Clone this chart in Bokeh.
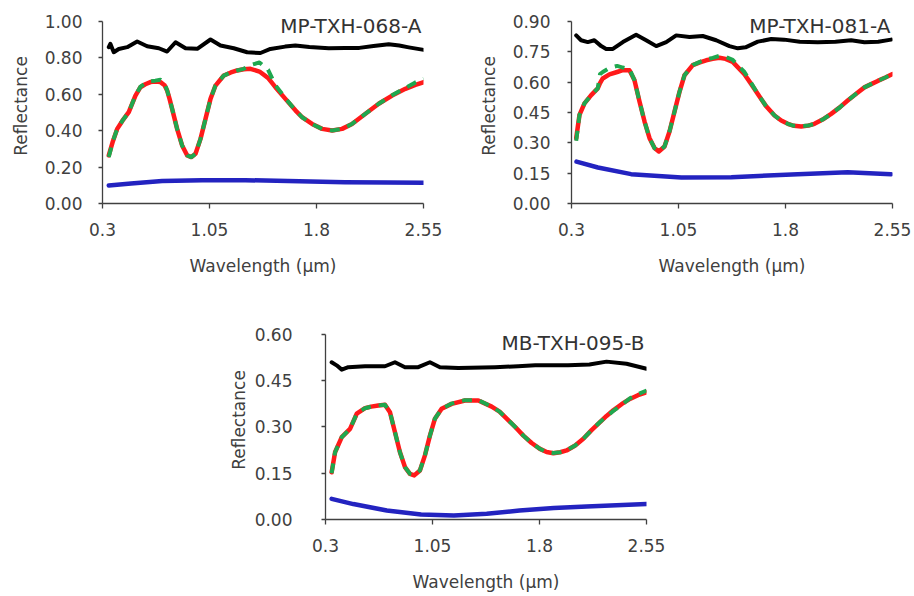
from bokeh.plotting import figure
from bokeh.layouts import column, row
from bokeh.models import Range1d, FixedTicker, NumeralTickFormatter, Label, Spacer
from bokeh.embed import file_html
from bokeh.resources import INLINE

# ---------------- data ----------------
x_ticks = [0.3, 1.05, 1.8, 2.55]
x_tick_labels = ["0.3", "1.05", "1.8", "2.55"]

# MP-TXH-068-A
a_title = "MP-TXH-068-A"
a_yticks = [0.0, 0.2, 0.4, 0.6, 0.8, 1.0]
a_black_x = [0.344, 0.355, 0.379, 0.414, 0.473, 0.543, 0.613, 0.695, 0.753, 0.812, 0.882, 0.964, 1.057,
             1.127, 1.22, 1.314, 1.407, 1.477, 1.58, 1.652, 1.75, 1.886, 2.0, 2.1, 2.2, 2.306, 2.38, 2.447, 2.552]
a_black_y = [0.859, 0.877, 0.831, 0.849, 0.859, 0.890, 0.864, 0.853, 0.835, 0.886, 0.853, 0.850, 0.901,
             0.868, 0.853, 0.831, 0.827, 0.849, 0.862, 0.868, 0.860, 0.853, 0.855, 0.855, 0.865, 0.875, 0.868,
             0.858, 0.844]
a_red_x = [0.344, 0.37, 0.403, 0.44, 0.484, 0.531, 0.566, 0.60, 0.636, 0.67, 0.706, 0.735, 0.753, 0.77,
           0.788, 0.823, 0.858, 0.894, 0.922, 0.952, 0.987, 1.022, 1.057, 1.092, 1.15, 1.2, 1.244, 1.29,
           1.337, 1.40, 1.46, 1.512, 1.582, 1.652, 1.699, 1.769, 1.839, 1.91, 1.979, 2.049, 2.143, 2.236,
           2.33, 2.423, 2.493, 2.552]
a_red_y = [0.264, 0.335, 0.410, 0.455, 0.502, 0.593, 0.639, 0.655, 0.667, 0.670, 0.667, 0.650, 0.621, 0.575,
           0.520, 0.410, 0.319, 0.264, 0.255, 0.273, 0.355, 0.465, 0.575, 0.648, 0.703, 0.720, 0.731, 0.738,
           0.740, 0.725, 0.690, 0.639, 0.575, 0.512, 0.474, 0.437, 0.410, 0.401, 0.410, 0.437, 0.493, 0.548,
           0.593, 0.630, 0.652, 0.667]
a_green_x = a_red_x
a_green_y = [0.255, 0.335, 0.410, 0.455, 0.502, 0.593, 0.642, 0.660, 0.672, 0.675, 0.680, 0.660, 0.621, 0.575,
             0.520, 0.410, 0.319, 0.264, 0.255, 0.273, 0.355, 0.465, 0.575, 0.648, 0.703, 0.720, 0.731, 0.740,
             0.760, 0.775, 0.735, 0.650, 0.578, 0.512, 0.474, 0.437, 0.410, 0.401, 0.410, 0.437, 0.493, 0.548,
             0.595, 0.635, 0.665, 0.684]
a_blue_x = [0.344, 0.5, 0.718, 1.0, 1.3, 1.6, 2.0, 2.3, 2.552]
a_blue_y = [0.099, 0.110, 0.123, 0.128, 0.128, 0.124, 0.117, 0.115, 0.114]

# MP-TXH-081-A
b_title = "MP-TXH-081-A"
b_yticks = [0.0, 0.15, 0.3, 0.45, 0.6, 0.75, 0.9]
b_black_x = [0.333, 0.367, 0.414, 0.46, 0.508, 0.543, 0.59, 0.66, 0.753, 0.823, 0.894, 0.964, 1.034, 1.127,
             1.22, 1.314, 1.407, 1.466, 1.52, 1.606, 1.7, 1.79, 1.9, 2.026, 2.15, 2.26, 2.353, 2.45, 2.54]
b_black_y = [0.831, 0.807, 0.798, 0.807, 0.778, 0.764, 0.764, 0.798, 0.834, 0.807, 0.778, 0.798, 0.831, 0.823,
             0.828, 0.807, 0.778, 0.767, 0.772, 0.800, 0.813, 0.810, 0.800, 0.797, 0.800, 0.807, 0.797, 0.800,
             0.810]
b_red_x = [0.333, 0.356, 0.391, 0.438, 0.484, 0.50, 0.519, 0.566, 0.62, 0.66, 0.706, 0.741, 0.777, 0.812,
           0.847, 0.882, 0.912, 0.952, 0.987, 1.022, 1.057, 1.092, 1.15, 1.2, 1.244, 1.29, 1.337, 1.38, 1.43,
           1.512, 1.56, 1.606, 1.66, 1.723, 1.77, 1.816, 1.86, 1.91, 1.96, 2.003, 2.06, 2.12, 2.18, 2.236, 2.3,
           2.353, 2.4, 2.447, 2.5, 2.55]
b_red_y = [0.323, 0.438, 0.495, 0.536, 0.569, 0.595, 0.618, 0.638, 0.650, 0.659, 0.659, 0.610, 0.503, 0.405,
           0.323, 0.274, 0.257, 0.282, 0.356, 0.454, 0.552, 0.634, 0.684, 0.698, 0.708, 0.715, 0.720, 0.715,
           0.700, 0.639, 0.590, 0.541, 0.485, 0.435, 0.410, 0.394, 0.384, 0.381, 0.385, 0.394, 0.415, 0.443,
           0.475, 0.509, 0.545, 0.574, 0.590, 0.606, 0.623, 0.640]
b_green_x = b_red_x
b_green_y = [0.310, 0.438, 0.495, 0.536, 0.569, 0.640, 0.650, 0.670, 0.680, 0.672, 0.665, 0.610, 0.503, 0.405,
             0.323, 0.274, 0.258, 0.282, 0.356, 0.454, 0.552, 0.634, 0.684, 0.700, 0.712, 0.720, 0.730, 0.725,
             0.710, 0.650, 0.595, 0.541, 0.485, 0.435, 0.410, 0.394, 0.384, 0.383, 0.385, 0.394, 0.415, 0.443,
             0.475, 0.509, 0.545, 0.574, 0.590, 0.606, 0.623, 0.640]
b_blue_x = [0.335, 0.485, 0.718, 1.07, 1.42, 1.886, 2.236, 2.54]
b_blue_y = [0.207, 0.178, 0.145, 0.129, 0.130, 0.145, 0.155, 0.145]

# MB-TXH-095-B
c_title = "MB-TXH-095-B"
c_yticks = [0.0, 0.15, 0.3, 0.45, 0.6]
c_black_x = [0.343, 0.378, 0.414, 0.46, 0.577, 0.717, 0.787, 0.857, 0.95, 1.032, 1.102, 1.231, 1.488, 1.65,
             1.77, 2.0, 2.15, 2.27, 2.41, 2.55]
c_black_y = [0.510, 0.500, 0.486, 0.494, 0.497, 0.497, 0.510, 0.494, 0.494, 0.510, 0.494, 0.491, 0.494, 0.497,
             0.500, 0.500, 0.503, 0.512, 0.505, 0.489]
c_red_x = [0.343, 0.367, 0.414, 0.472, 0.519, 0.577, 0.62, 0.67, 0.717, 0.752, 0.787, 0.822, 0.857, 0.892,
           0.922, 0.962, 0.997, 1.032, 1.067, 1.114, 1.184, 1.278, 1.371, 1.465, 1.52, 1.57, 1.63, 1.687, 1.745,
           1.803, 1.85, 1.897, 1.945, 1.99, 2.05, 2.107, 2.165, 2.224, 2.27, 2.317, 2.375, 2.434, 2.49, 2.551]
c_red_y = [0.153, 0.218, 0.267, 0.294, 0.343, 0.361, 0.366, 0.370, 0.372, 0.348, 0.283, 0.218, 0.170, 0.148,
           0.143, 0.159, 0.208, 0.272, 0.327, 0.359, 0.375, 0.386, 0.386, 0.366, 0.350, 0.327, 0.300, 0.272,
           0.248, 0.229, 0.219, 0.215, 0.218, 0.224, 0.240, 0.262, 0.290, 0.316, 0.336, 0.354, 0.374, 0.391,
           0.403, 0.413]
c_green_x = c_red_x
c_green_y = [0.150, 0.218, 0.267, 0.294, 0.343, 0.361, 0.366, 0.370, 0.372, 0.348, 0.283, 0.218, 0.170, 0.148,
             0.145, 0.159, 0.208, 0.272, 0.327, 0.359, 0.376, 0.387, 0.387, 0.366, 0.350, 0.327, 0.300, 0.272,
             0.248, 0.229, 0.219, 0.216, 0.218, 0.224, 0.240, 0.262, 0.290, 0.316, 0.334, 0.352, 0.372, 0.393,
             0.407, 0.418]
c_blue_x = [0.343, 0.495, 0.73, 0.97, 1.2, 1.43, 1.66, 1.9, 2.13, 2.55]
c_blue_y = [0.067, 0.050, 0.029, 0.016, 0.013, 0.019, 0.029, 0.037, 0.042, 0.050]

FONT = "DejaVu Sans"
TEXT_COLOR = "#404040"
AXIS_COLOR = "#404040"


def make_panel(title, yticks, series, width, height, left, right, top, bottom,
               y_end, title_y, label_standoff, title_standoff):
    p = figure(width=width, height=height, output_backend="svg", toolbar_location=None,
               x_range=Range1d(0.3, 2.55), y_range=Range1d(0.0, y_end),
               min_border_left=left, min_border_right=right,
               min_border_top=top, min_border_bottom=bottom)
    p.outline_line_color = None
    p.background_fill_color = "white"
    p.border_fill_color = "white"
    p.xgrid.visible = False
    p.ygrid.visible = False

    # continuum (black), residual (blue), measured spectrum (red), fitted model (green dashed)
    bx, by, rx, ry, gx, gy, ux, uy = series
    p.line(bx, by, line_color="black", line_width=4, line_join="round", line_cap="round")
    p.line(ux, uy, line_color="#2323c0", line_width=4.5, line_join="round", line_cap="round")
    p.line(rx, ry, line_color="#ff1a1a", line_width=4.5, line_join="round", line_cap="round")
    p.line(gx, gy, line_color="#1fa84f", line_width=4, line_dash="10 8", line_join="round")

    p.xaxis.ticker = FixedTicker(ticks=x_ticks)
    p.xaxis.major_label_overrides = {t: s for t, s in zip(x_ticks, x_tick_labels)}
    p.yaxis.ticker = FixedTicker(ticks=yticks)
    p.yaxis.formatter = NumeralTickFormatter(format="0.00")
    # the value axis stops at its last tick; the frame above it holds the sample name
    p.yaxis.bounds = (yticks[0], yticks[-1])

    for ax in (p.xaxis[0], p.yaxis[0]):
        ax.axis_line_color = AXIS_COLOR
        ax.axis_line_width = 1.3
        ax.major_tick_line_color = AXIS_COLOR
        ax.major_tick_line_width = 1.3
        ax.major_tick_in = 0
        ax.minor_tick_line_color = None
        ax.major_label_text_font = FONT
        ax.major_label_text_font_size = "17px"
        ax.major_label_text_color = TEXT_COLOR
        ax.axis_label_text_font = FONT
        ax.axis_label_text_font_size = "17px"
        ax.axis_label_text_font_style = "normal"
        ax.axis_label_text_color = TEXT_COLOR

    p.xaxis.major_tick_out = 5
    p.yaxis.major_tick_out = 4
    p.xaxis.major_label_standoff = 14
    p.yaxis.major_label_standoff = label_standoff
    p.xaxis.axis_label = "Wavelength (μm)"
    p.yaxis.axis_label = "Reflectance"
    p.xaxis.axis_label_standoff = 17
    p.yaxis.axis_label_standoff = title_standoff

    p.add_layout(Label(x=2.535, y=title_y, text=title, text_align="right",
                       text_baseline="alphabetic", text_font=FONT, text_font_size="20px",
                       text_color="#333333"))
    return p


p1 = make_panel(a_title, a_yticks,
                (a_black_x, a_black_y, a_red_x, a_red_y, a_green_x, a_green_y, a_blue_x, a_blue_y),
                width=460, height=290, left=102, right=37, top=8, bottom=87,
                y_end=1.0714, title_y=0.975, label_standoff=16, title_standoff=11)
p2 = make_panel(b_title, b_yticks,
                (b_black_x, b_black_y, b_red_x, b_red_y, b_green_x, b_green_y, b_blue_x, b_blue_y),
                width=454, height=290, left=111, right=22, top=8, bottom=86,
                y_end=0.9639, title_y=0.875, label_standoff=17, title_standoff=11)
p3 = make_panel(c_title, c_yticks,
                (c_black_x, c_black_y, c_red_x, c_red_y, c_green_x, c_green_y, c_blue_x, c_blue_y),
                width=460, height=306, left=105, right=34, top=30, bottom=77,
                y_end=0.6454, title_y=0.574, label_standoff=29, title_standoff=3)

layout = column(row(p1, p2), row(Spacer(width=220, height=306), p3))

with open("out.html", "w") as f:
    f.write(file_html(layout, INLINE))
